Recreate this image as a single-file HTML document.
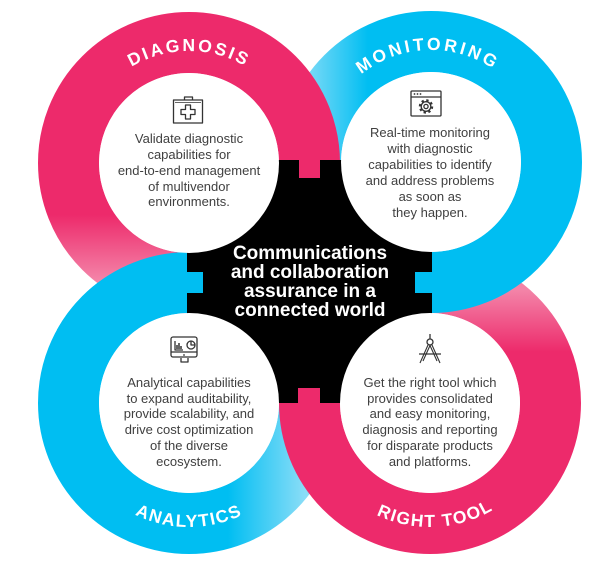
<!DOCTYPE html>
<html><head><meta charset="utf-8">
<style>
html,body{margin:0;padding:0;background:#fff;}
svg{display:block;}
</style></head><body>
<svg width="600" height="563" viewBox="0 0 600 563" xmlns="http://www.w3.org/2000/svg" font-family="'Liberation Sans', Arial, sans-serif">
<defs>
<linearGradient id="gTL" gradientUnits="userSpaceOnUse" x1="0" y1="215" x2="0" y2="292"><stop offset="0" stop-color="#ED2A6B"/><stop offset="1" stop-color="#F594B3"/></linearGradient>
<linearGradient id="gTR" gradientUnits="userSpaceOnUse" x1="300" y1="0" x2="368" y2="0"><stop offset="0" stop-color="#8ADDF7"/><stop offset="1" stop-color="#00BEF2"/></linearGradient>
<linearGradient id="gBL" gradientUnits="userSpaceOnUse" x1="228" y1="0" x2="305" y2="0"><stop offset="0" stop-color="#00BEF2"/><stop offset="1" stop-color="#8ADDF7"/></linearGradient>
<linearGradient id="gBR" gradientUnits="userSpaceOnUse" x1="0" y1="290" x2="0" y2="352"><stop offset="0" stop-color="#F384A8"/><stop offset="1" stop-color="#ED2A6B"/></linearGradient>
<clipPath id="cL"><rect x="0" y="235" width="215" height="95"/></clipPath>
<path id="pTL" d="M77,163 A112,112 0 0 1 301,163"/>
<path id="pTR" d="M319,162 A112,112 0 0 1 543,162"/>
<path id="pBL" d="M65,403 A124,124 0 0 0 313,403"/>
<path id="pBR" d="M306,403 A124,124 0 0 0 554,403"/>
</defs>

<rect width="600" height="563" fill="#fff"/>

<!-- rings -->
<circle cx="189" cy="403" r="120.5" fill="none" stroke="url(#gBL)" stroke-width="61"/>
<circle cx="430" cy="403" r="120.5" fill="none" stroke="url(#gBR)" stroke-width="61"/>
<circle cx="431" cy="162" r="120.5" fill="none" stroke="url(#gTR)" stroke-width="61"/>
<circle cx="189" cy="163" r="120.5" fill="none" stroke="url(#gTL)" stroke-width="61"/>
<circle cx="189" cy="403" r="120.5" fill="none" stroke="#00BEF2" stroke-width="61" clip-path="url(#cL)"/>

<!-- black center puzzle shape -->
<path d="M187,160 H299 V178 H320 V160 H432 V272 H415 V293 H432 V403 H320 V388 H298 V403 H187 V293 H203 V272 H187 Z" fill="#000"/>

<!-- white inner circles -->
<circle cx="189" cy="163" r="90" fill="#fff"/>
<circle cx="431" cy="162" r="90" fill="#fff"/>
<circle cx="189" cy="403" r="90" fill="#fff"/>
<circle cx="430" cy="403" r="90" fill="#fff"/>

<!-- arc labels -->
<g font-size="17.5" font-weight="bold" fill="#fff">
<text letter-spacing="2.5"><textPath href="#pTL" startOffset="50%" text-anchor="middle">DIAGNOSIS</textPath></text>
<text letter-spacing="3"><textPath href="#pTR" startOffset="49%" text-anchor="middle">MONITORING</textPath></text>
<text letter-spacing="1.5"><textPath href="#pBL" startOffset="50%" text-anchor="middle">ANALYTICS</textPath></text>
<text letter-spacing="1.5"><textPath href="#pBR" startOffset="51.5%" text-anchor="middle">RIGHT TOOL</textPath></text>
</g>

<!-- center title -->
<g font-size="19" font-weight="bold" fill="#fff" text-anchor="middle">
<text x="310" y="259">Communications</text>
<text x="310" y="278">and collaboration</text>
<text x="310" y="297">assurance in a</text>
<text x="310" y="316">connected world</text>
</g>

<!-- body texts -->
<g font-size="13" fill="#404040" text-anchor="middle">
<text x="189" y="143">Validate diagnostic</text>
<text x="189" y="159">capabilities for</text>
<text x="189" y="175">end-to-end management</text>
<text x="189" y="191">of multivendor</text>
<text x="189" y="206">environments.</text>

<text x="430" y="137">Real-time monitoring</text>
<text x="430" y="153">with diagnostic</text>
<text x="430" y="169">capabilities to identify</text>
<text x="430" y="185">and address problems</text>
<text x="430" y="201">as soon as</text>
<text x="430" y="217">they happen.</text>

<text x="189" y="387">Analytical capabilities</text>
<text x="189" y="403">to expand auditability,</text>
<text x="189" y="418">provide scalability, and</text>
<text x="189" y="434">drive cost optimization</text>
<text x="189" y="450">of the diverse</text>
<text x="189" y="466">ecosystem.</text>

<text x="430" y="387">Get the right tool which</text>
<text x="430" y="403">provides consolidated</text>
<text x="430" y="418">and easy monitoring,</text>
<text x="430" y="434">diagnosis and reporting</text>
<text x="430" y="450">for disparate products</text>
<text x="430" y="466">and platforms.</text>
</g>

<!-- icons -->
<g fill="none" stroke="#333" stroke-width="1.3" stroke-linejoin="round">
  <!-- medical kit -->
  <rect x="173.5" y="100" width="29" height="23"/>
  <path d="M184.5,100 V97 H192.5 V100"/>
  <path d="M175,102.5 H201" stroke-width="0.8"/>
  <path d="M185.5,105 H190.5 V109.5 H195 V114.5 H190.5 V119 H185.5 V114.5 H181 V109.5 H185.5 Z"/>

  <!-- browser gear -->
  <rect x="411" y="91" width="30" height="25" rx="1"/>
  <path d="M411,97 H441"/>
  <circle cx="426" cy="106.5" r="4.8"/>
  <circle cx="426" cy="106.5" r="6.1" stroke-width="2.2" stroke-dasharray="2.3 2.5"/>
  <circle cx="426" cy="106.5" r="2.1"/>

  <!-- monitor analytics -->
  <rect x="171" y="337" width="26" height="20" rx="2"/>
  <path d="M171,352 H197"/>
  <path d="M181,358 V362 H188 V358"/>
  <path d="M175,341 V350 H183"/>
  <path d="M177,349 V345 M179,349 V343 M181,349 V346" stroke-width="1.5"/>
  <circle cx="191" cy="345" r="4"/>
  <path d="M191,341 V345 H195"/>

  <!-- compass -->
  <path d="M430,334 V339"/>
  <circle cx="430" cy="342" r="3"/>
  <path d="M428,345 L420,363 M432,345 L440,363 M430,345.5 L423,361 M430,345.5 L437,361" stroke-width="1.1"/>
  <path d="M419,354 H441"/>
</g>
<circle cx="184" cy="355" r="0.9" fill="#333"/>
<circle cx="414.5" cy="94" r="0.9" fill="#333"/>
<circle cx="417.5" cy="94" r="0.9" fill="#333"/>
<circle cx="420.5" cy="94" r="0.9" fill="#333"/>
</svg>
</body></html>
